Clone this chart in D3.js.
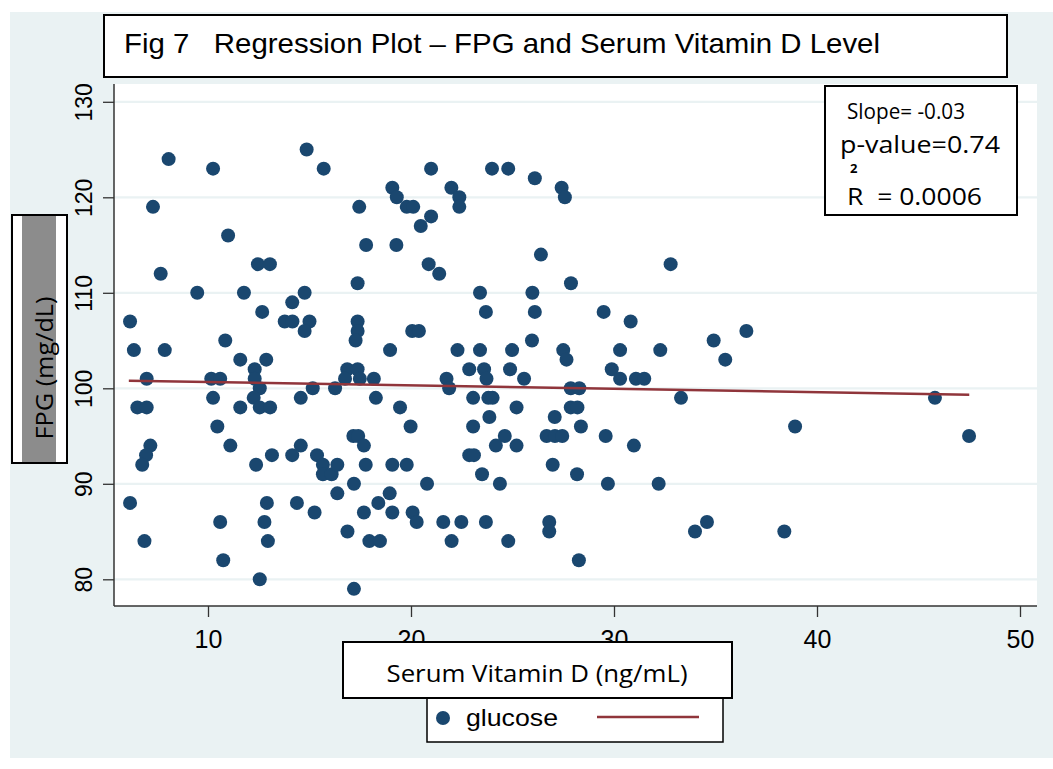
<!DOCTYPE html>
<html><head><meta charset="utf-8">
<script src="https://cdn.jsdelivr.net/npm/d3@7/dist/d3.min.js"></script>
<style>html,body{margin:0;padding:0;background:#fff}svg{display:block}</style>
</head><body>
<svg id="chart" width="1053" height="769"></svg>
<script>
// ---------------- data ----------------
const vitD = [8.06,10.25,14.86,15.7,7.29,10.99,12.46,13.05,7.67,9.47,11.77,14.76,14.15,12.67,6.16,13.78,14.16,15.0,14.76,6.35,7.87,10.85,11.59,12.87,12.3,6.98,10.16,10.6,12.3,12.55,15.16,10.25,12.25,14.57,6.52,6.98,11.59,12.55,13.06,10.46,7.16,11.1,14.57,6.95,6.76,12.37,13.15,14.15,15.37,15.66,15.66,6.16,10.6,12.78,12.9,14.38,15.25,6.87,12.95,10.75,12.55,
20.99,23.99,24.79,26.1,19.08,19.3,21.99,22.38,22.38,17.45,19.79,20.11,20.99,20.48,17.79,19.28,20.87,21.39,17.37,23.4,25.98,23.69,26.1,17.37,17.37,17.27,20.06,20.39,18.97,22.29,23.4,24.98,25.96,16.86,17.37,22.87,23.6,24.88,16.75,17.48,18.17,16.26,18.27,19.46,19.98,17.16,17.4,17.68,16.09,16.37,17.77,19.08,19.79,17.19,20.79,16.37,18.95,18.39,17.68,19.08,20.08,20.28,16.87,17.95,18.47,17.19,21.59,22.48,23.69,22.0,24.79,21.75,23.72,25.57,21.88,23.06,23.81,24.02,25.2,23.86,23.06,24.62,24.18,25.2,22.87,23.1,23.5,24.38,
27.42,27.58,26.4,32.79,27.88,29.49,30.82,27.5,27.66,30.3,32.28,34.91,35.48,29.89,30.3,31.08,31.49,27.87,28.29,33.3,27.87,28.2,27.08,28.37,26.68,27.09,27.45,29.59,30.98,26.98,28.18,29.7,32.2,26.81,26.81,33.99,34.58,28.27,36.52,45.81,38.92,47.49,38.39];
const fpg = [124,123,125,123,119,116,113,113,112,110,110,110,109,108,107,107,107,107,106,104,104,105,103,103,102,101,101,101,101,100,100,99,99,99,98,98,98,98,98,96,94,94,94,93,92,92,93,93,93,92,91,88,86,86,88,88,87,84,84,82,80,
123,123,123,122,121,120,121,120,119,119,119,119,118,117,115,115,113,112,111,110,110,108,108,107,106,105,106,106,104,104,104,104,105,102,102,102,102,102,101,101,101,100,99,98,96,95,95,94,91,92,92,92,92,90,90,89,89,88,87,87,87,86,85,84,84,79,86,86,86,84,84,101,101,101,100,99,99,99,98,97,96,95,94,94,93,93,91,90,
121,120,114,113,111,108,107,104,103,104,104,105,103,102,101,101,101,100,100,99,98,98,97,96,95,95,95,95,94,92,91,90,90,86,85,85,86,82,106,99,96,95,85];
const fitX = [6.1, 47.5];
const fitY = [100.8, 99.33];
const xTicks = [10, 20, 30, 40, 50];
const yTicks = [80, 90, 100, 110, 120, 130];
const titleText = "Fig 7   Regression Plot \u2013 FPG and Serum Vitamin D Level";
const xTitle = "Serum Vitamin D (ng/mL)";
const yTitle = "FPG (mg/dL)";
const seriesName = "glucose";
const statLines = ["Slope= -0.03", "p-value=0.74", "R  = 0.0006"];
const statSup = "2";

// ---------------- layout ----------------
const svg = d3.select("#chart");
const navy = "#1a476f", maroon = "#90353b", bg = "#eaf2f3";
const P = {l: 114, r: 1037, t: 84, b: 606};
const x = d3.scaleLinear().domain([10, 50]).range([208, 1020]);
const y = d3.scaleLinear().domain([80, 130]).range([579.3, 101.8]);
const sansN = "'Liberation Sans Narrow','Arial Narrow','Liberation Sans',Arial,sans-serif";
const sans = "'Liberation Sans',Arial,sans-serif";
const cal = "'Open Sans','Noto Sans',sans-serif";

svg.append("rect").attr("x", 10).attr("y", 12).attr("width", 1043).attr("height", 746).attr("fill", bg);
svg.append("rect").attr("x", P.l).attr("y", P.t).attr("width", P.r - P.l).attr("height", P.b - P.t).attr("fill", "#fff");

// gridlines
svg.append("g").selectAll("line").data(yTicks).join("line")
  .attr("x1", P.l).attr("x2", P.r).attr("y1", d => y(d)).attr("y2", d => y(d))
  .attr("stroke", bg).attr("stroke-width", 2.2);

// axes
const gy = svg.append("g").attr("transform", `translate(${P.l},0)`)
  .call(d3.axisLeft(y).tickValues(yTicks).tickSize(11).tickSizeOuter(0));
gy.select(".domain").attr("d", `M0,${P.t}V${P.b}`).attr("stroke", "#333").attr("stroke-width", 1.5);
gy.selectAll(".tick line").attr("stroke", "#333").attr("stroke-width", 1.3);
gy.selectAll(".tick text").attr("x", null).attr("dy", null)
  .attr("transform", "translate(-22,0) rotate(-90)").attr("text-anchor", "middle")
  .attr("font-family", sans).attr("font-size", 23).attr("fill", "#000");

const gx = svg.append("g").attr("transform", `translate(0,${P.b})`)
  .call(d3.axisBottom(x).tickValues(xTicks).tickSize(11).tickSizeOuter(0));
gx.select(".domain").attr("d", `M${P.l},0H${P.r}`).attr("stroke", "#333").attr("stroke-width", 1.5);
gx.selectAll(".tick line").attr("stroke", "#333").attr("stroke-width", 1.3);
gx.selectAll(".tick text").attr("y", 42).attr("dy", null)
  .attr("font-family", sans).attr("font-size", 25).attr("fill", "#000");

// points
svg.append("g").selectAll("circle").data(vitD.map((v, i) => [v, fpg[i]])).join("circle")
  .attr("cx", d => x(d[0])).attr("cy", d => y(d[1])).attr("r", 7).attr("fill", navy);

// fit line
svg.append("path").datum(fitX.map((v, i) => [v, fitY[i]]))
  .attr("d", d3.line().x(d => x(d[0])).y(d => y(d[1])))
  .attr("stroke", maroon).attr("stroke-width", 2.5).attr("fill", "none");

// stats box
svg.append("rect").attr("x", 825).attr("y", 86).attr("width", 192).attr("height", 129)
  .attr("fill", "#fff").attr("stroke", "#000").attr("stroke-width", 2);
const st = svg.append("g").attr("font-family", cal).attr("fill", "#000");
st.append("text").attr("x", 847).attr("y", 119).attr("font-size", 21).attr("textLength", 118).attr("lengthAdjust", "spacingAndGlyphs").text(statLines[0]);
st.append("text").attr("x", 840).attr("y", 153).attr("font-size", 23).attr("textLength", 160).attr("lengthAdjust", "spacingAndGlyphs").text(statLines[1]);
st.append("text").attr("x", 850).attr("y", 173).attr("font-size", 13).attr("font-weight", "bold").text(statSup);
st.append("text").attr("x", 847).attr("y", 205).attr("font-size", 23).attr("textLength", 135).attr("lengthAdjust", "spacingAndGlyphs").style("white-space", "pre").text(statLines[2]);

// title box
svg.append("rect").attr("x", 104).attr("y", 15).attr("width", 903).attr("height", 62)
  .attr("fill", "#fff").attr("stroke", "#000").attr("stroke-width", 2);
svg.append("text").attr("x", 124).attr("y", 53).attr("font-family", sansN).attr("font-size", 28)
  .attr("textLength", 756).attr("lengthAdjust", "spacingAndGlyphs").style("white-space", "pre").text(titleText);

// y title box
svg.append("rect").attr("x", 12).attr("y", 215).attr("width", 55).attr("height", 248)
  .attr("fill", "#fff").attr("stroke", "#000").attr("stroke-width", 2);
svg.append("rect").attr("x", 22).attr("y", 216).attr("width", 34).attr("height", 246).attr("fill", "#8c8c8c");
svg.append("text").attr("transform", "translate(53,368) rotate(-90)").attr("text-anchor", "middle")
  .attr("font-family", cal).attr("font-size", 24).attr("textLength", 143).attr("lengthAdjust", "spacingAndGlyphs").text(yTitle);

// legend box
svg.append("rect").attr("x", 427).attr("y", 690).attr("width", 296).attr("height", 52)
  .attr("fill", "#fff").attr("stroke", "#000").attr("stroke-width", 1.5);
svg.append("circle").attr("cx", 443).attr("cy", 718).attr("r", 7).attr("fill", navy);
svg.append("text").attr("x", 466).attr("y", 726).attr("font-family", sans).attr("font-size", 24)
  .attr("textLength", 92).attr("lengthAdjust", "spacingAndGlyphs").text(seriesName);
svg.append("line").attr("x1", 597).attr("x2", 699).attr("y1", 717).attr("y2", 717)
  .attr("stroke", maroon).attr("stroke-width", 2.5);

// x title box
svg.append("rect").attr("x", 343).attr("y", 642).attr("width", 389).attr("height", 56)
  .attr("fill", "#fff").attr("stroke", "#000").attr("stroke-width", 2);
svg.append("text").attr("x", 537).attr("y", 682).attr("text-anchor", "middle").attr("font-family", cal)
  .attr("font-size", 24).attr("textLength", 301).attr("lengthAdjust", "spacingAndGlyphs").text(xTitle);
</script>
</body></html>
